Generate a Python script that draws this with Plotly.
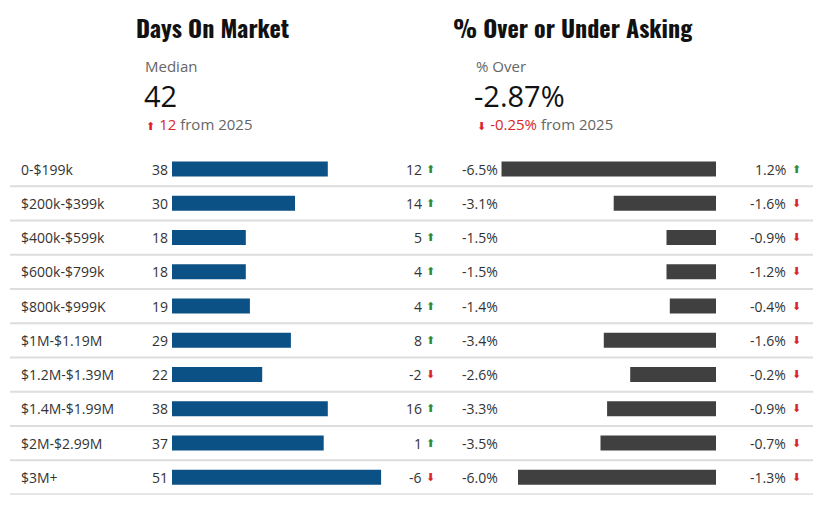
import plotly.graph_objects as go

categories = ["0-$199k", "$200k-$399k", "$400k-$599k", "$600k-$799k", "$800k-$999K",
              "$1M-$1.19M", "$1.2M-$1.39M", "$1.4M-$1.99M", "$2M-$2.99M", "$3M+"]
days_on_market = [38, 30, 18, 18, 19, 29, 22, 38, 37, 51]
days_change = [12, 14, 5, 4, 4, 8, -2, 16, 1, -6]
pct_over = [-6.5, -3.1, -1.5, -1.5, -1.4, -3.4, -2.6, -3.3, -3.5, -6.0]
pct_change = [1.2, -1.6, -0.9, -1.2, -0.4, -1.6, -0.2, -0.9, -0.7, -1.3]

median_days = 42
median_days_change = 12
median_pct = -2.87
median_pct_change = -0.25
compare_year = 2025

W, H = 825, 507
BLUE = "#0b5185"
GREY_BAR = "#404040"
TXT = "#333333"
SUB = "#666666"
GREEN = "#2e8b3a"
RED = "#d9262b"
BODY_FONT = "Open Sans, Lato, sans-serif"
TITLE_FONT = "Oswald, 'Liberation Sans Narrow', 'DejaVu Sans Condensed', 'DejaVu Sans', sans-serif"
ARROW_FONT = "DejaVu Sans"
ROW_SIZE = 14


def px(x):
    return x / W


def py(y):
    return 1 - y / H


row_top = 151.9
row_h = 34.25
y_dom = [1 - (row_top + 10 * row_h) / H, 1 - row_top / H]

fig = go.Figure()
fig.add_trace(go.Bar(y=categories, x=days_on_market, orientation="h",
                     marker=dict(color=BLUE, line=dict(width=0)), width=0.44,
                     xaxis="x", yaxis="y", hoverinfo="skip"))
fig.add_trace(go.Bar(y=categories, x=pct_over, orientation="h",
                     marker=dict(color=GREY_BAR, line=dict(width=0)), width=0.44,
                     xaxis="x2", yaxis="y", hoverinfo="skip"))


def row_text(x, c, text, anchor, color=TXT, family=BODY_FONT, size=ROW_SIZE):
    return dict(x=px(x), y=c, xref="paper", yref="y", text=text, showarrow=False,
                xanchor=anchor, yanchor="middle", font=dict(family=family, size=size, color=color))


def head_text(x, y, text, anchor, size, color, family=BODY_FONT):
    return dict(x=px(x), y=py(y), xref="paper", yref="paper", text=text, showarrow=False,
                xanchor=anchor, yanchor="middle", font=dict(family=family, size=size, color=color))


ann = []
shapes = []
for i, c in enumerate(categories):
    ann.append(row_text(19, c, c, "left"))
    ann.append(row_text(170, c, str(days_on_market[i]), "right"))
    ann.append(row_text(424, c, str(days_change[i]), "right"))
    up = days_change[i] > 0
    ann.append(row_text(430, c, "⬆" if up else "⬇", "center", GREEN if up else RED, ARROW_FONT, 11))
    ann.append(row_text(500, c, f"{pct_over[i]:.1f}%", "right"))
    ann.append(row_text(788, c, f"{pct_change[i]:.1f}%", "right"))
    up2 = pct_change[i] > 0
    ann.append(row_text(796, c, "⬆" if up2 else "⬇", "center", GREEN if up2 else RED, ARROW_FONT, 11))
    shapes.append(dict(type="line", xref="paper", yref="y", x0=px(10), x1=px(813),
                       y0=i + 0.5, y1=i + 0.5, line=dict(color="#dddddd", width=2)))

arrow_up_red = f"<span style='font-family:DejaVu Sans;font-size:11px;color:{RED}'>⬆</span>"
arrow_dn_red = f"<span style='font-family:DejaVu Sans;font-size:11px;color:{RED}'>⬇</span>"

ann += [
    head_text(212, 27, "<b>Days On Market</b>", "center", 24, "#111111", TITLE_FONT),
    head_text(573, 27, "<b>% Over or Under Asking</b>", "center", 24, "#111111", TITLE_FONT),
    head_text(143, 66, "Median", "left", 15, SUB),
    head_text(142, 96, str(median_days), "left", 29, "#111111"),
    head_text(144, 124, f"{arrow_up_red} <span style='color:{RED}'>{median_days_change}</span> from {compare_year}",
              "left", 15, SUB),
    head_text(474, 66, "% Over", "left", 15, SUB),
    head_text(472, 95, f"{median_pct:.2f}%", "left", 29, "#111111"),
    head_text(475, 124, f"{arrow_dn_red} <span style='color:{RED}'>{median_pct_change:.2f}%</span> from {compare_year}",
              "left", 15, SUB),
]

shapes.append(dict(type="line", xref="paper", yref="y", x0=px(10), x1=px(813),
                   y0=9.5, y1=9.5, line=dict(color="#dddddd", width=2)))

fig.update_layout(
    width=W, height=H, margin=dict(l=0, r=0, t=0, b=0),
    paper_bgcolor="white", plot_bgcolor="rgba(0,0,0,0)", showlegend=False,
    xaxis=dict(domain=[px(172), px(392)], range=[0, 220 / 4.1], visible=False, fixedrange=True),
    xaxis2=dict(domain=[px(495), px(716)], range=[-221 / 33, 0], visible=False, anchor="y",
                fixedrange=True),
    yaxis=dict(domain=y_dom, type="category", categoryorder="array", categoryarray=categories,
               range=[9.5, -0.5], visible=False, fixedrange=True),
    annotations=ann, shapes=shapes,
)
fig.write_html("out.html", config={"displayModeBar": False},
               post_script="document.body.style.margin='0';")
